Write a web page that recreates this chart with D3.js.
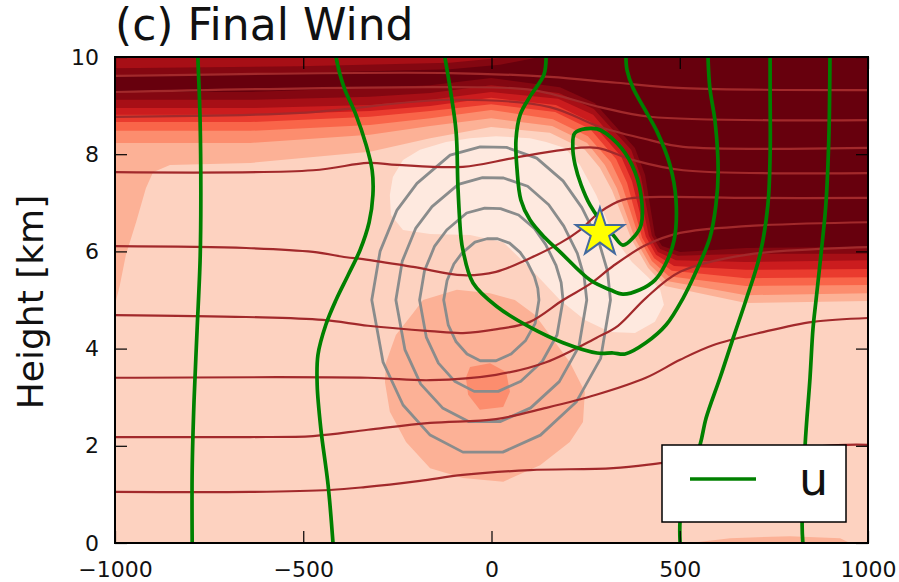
<!DOCTYPE html>
<html>
<head>
<meta charset="utf-8">
<script src="https://cdn.jsdelivr.net/npm/d3@7"></script>
<style>
  html, body { margin: 0; padding: 0; background: #fff; }
  svg { display: block; font-family: 'DejaVu Sans', sans-serif; }
</style>
</head>
<body>
<svg id="chart" width="899" height="582"></svg>
<script>
// axis ticks
var xTicks = [-1000, -500, 0, 500, 1000];
var yTicks = [0, 2, 4, 6, 8, 10];

// filled field: lower edge of each band, right edge -> left edge  [x, km]
var topEdge = [[-1000, 10], [1000, 10]];
var band28Lower = [[1000, 4.98], [676, 4.94], [461, 5.29], [416, 5.66], [373, 6.23], [320, 7.26], [288, 7.72], [248, 8.09], [155, 8.44], [-1, 8.56], [-163, 8.33], [-323, 8.05], [-641, 7.82], [-854, 7.78], [-899, 7.63], [-918, 7.30], [-944, 6.60], [-971, 5.93], [-987, 5.31], [-1000, 4.90]];
var band39Lower = [[1000, 5.14], [676, 5.10], [466, 5.39], [421, 5.72], [381, 6.26], [333, 7.30], [301, 7.78], [254, 8.23], [161, 8.58], [-1, 8.74], [-163, 8.58], [-323, 8.40], [-641, 8.23], [-1000, 8.23]];
var band51Lower = [[1000, 5.31], [676, 5.29], [471, 5.49], [426, 5.80], [392, 6.28], [347, 7.35], [317, 7.84], [256, 8.37], [163, 8.72], [-1, 8.91], [-163, 8.74], [-323, 8.60], [-641, 8.48], [-1000, 8.48]];
var band63Lower = [[1000, 5.47], [676, 5.45], [479, 5.60], [432, 5.86], [400, 6.28], [360, 7.41], [331, 7.90], [262, 8.52], [169, 8.87], [-1, 9.03], [-163, 8.89], [-323, 8.77], [-641, 8.66], [-1000, 8.66]];
var band75Lower = [[1000, 5.64], [676, 5.62], [485, 5.70], [437, 5.93], [410, 6.30], [373, 7.45], [344, 7.96], [264, 8.66], [171, 9.01], [-1, 9.16], [-163, 8.99], [-323, 8.89], [-641, 8.81], [-1000, 8.81]];
var band86Lower = [[1000, 5.82], [676, 5.78], [490, 5.82], [442, 5.99], [418, 6.32], [386, 7.49], [357, 8.02], [270, 8.81], [177, 9.14], [-1, 9.28], [-163, 9.12], [-323, 9.01], [-641, 8.95], [-1000, 8.95]];
var band94Upper = [[-1000, 9.77], [-509, 9.81], [-110, 9.88], [49, 10], [1000, 10]];
var band94Lower = [[1000, 5.95], [676, 5.95], [495, 5.91], [448, 6.05], [426, 6.32], [397, 7.53], [371, 8.09], [272, 8.93], [179, 9.26], [-1, 9.42], [-163, 9.26], [-323, 9.18], [-641, 9.12], [-1000, 9.12]];
var band100Upper = [[-1000, 9.63], [-509, 9.67], [-110, 9.75], [23, 9.84], [129, 10], [1000, 10]];
var band100Lower = [[1000, 6.09], [676, 6.07], [501, 5.99], [453, 6.11], [434, 6.34], [408, 7.57], [381, 8.13], [275, 9.05], [182, 9.38], [-1, 9.57], [-163, 9.42], [-323, 9.36], [-641, 9.28], [-1000, 9.28]];

// closed patches of the filled field
var lightPatch = [[-262, 7.53], [-235, 7.88], [-190, 8.09], [-121, 8.25], [-57, 8.33], [12, 8.37], [102, 8.33], [145, 8.25], [195, 8.13], [235, 7.78], [278, 7.16], [309, 6.60], [336, 6.17], [373, 5.78], [416, 5.47], [448, 5.21], [458, 4.90], [434, 4.55], [381, 4.32], [315, 4.34], [248, 4.59], [182, 5.00], [102, 5.66], [31, 6.19], [-57, 6.34], [-163, 6.36], [-235, 6.44], [-267, 6.75], [-270, 7.16]];
var salmonBlob = [[-182, 5.00], [-92, 5.21], [-4, 5.14], [62, 5.00], [116, 4.69], [155, 4.28], [208, 3.72], [248, 3.11], [243, 2.49], [208, 2.08], [129, 1.60], [31, 1.26], [-76, 1.34], [-163, 1.54], [-227, 2.08], [-270, 2.70], [-283, 3.31], [-280, 3.72], [-254, 4.28], [-208, 4.73]];
var salmonSpot = [[-57, 3.62], [-4, 3.70], [39, 3.52], [49, 3.11], [31, 2.80], [-31, 2.74], [-62, 3.05], [-68, 3.40]];
var bottomStrip = [[527, 0], [634, 0.10], [793, 0.14], [926, 0.10], [952, 0]];

// gray closed contours, inner to outer
var ring1 = [[-12, 6.26], [16, 6.26], [48, 6.17], [76, 5.98], [96, 5.76], [114, 5.48], [123, 5.24], [126, 5.0], [116, 4.52], [90, 4.16], [52, 3.89], [12, 3.75], [-30, 3.75], [-65, 3.89], [-94, 4.14], [-115, 4.49], [-127, 5.0], [-118, 5.4], [-100, 5.74], [-79, 5.96], [-44, 6.19]];
var ring2 = [[-18, 6.89], [24, 6.88], [72, 6.75], [114, 6.47], [144, 6.14], [171, 5.72], [185, 5.36], [190, 5.0], [174, 4.28], [135, 3.74], [78, 3.33], [18, 3.12], [-46, 3.12], [-98, 3.33], [-141, 3.7], [-173, 4.23], [-191, 5.0], [-178, 5.6], [-151, 6.11], [-119, 6.44], [-66, 6.79]];
var ring3 = [[-24, 7.52], [32, 7.51], [96, 7.34], [152, 6.96], [192, 6.52], [228, 5.96], [246, 5.48], [253, 5.0], [232, 4.04], [180, 3.32], [104, 2.78], [24, 2.5], [-61, 2.5], [-130, 2.78], [-188, 3.27], [-230, 3.98], [-254, 5.0], [-237, 5.8], [-201, 6.48], [-158, 6.92], [-88, 7.38]];
var ring4 = [[-30, 8.15], [40, 8.14], [120, 7.92], [190, 7.45], [240, 6.9], [285, 6.2], [308, 5.6], [316, 5.0], [290, 3.8], [225, 2.9], [130, 2.22], [30, 1.87], [-76, 1.87], [-163, 2.22], [-235, 2.84], [-288, 3.72], [-318, 5.0], [-296, 6.0], [-251, 6.85], [-198, 7.4], [-110, 7.98]];

// dark red contour lines, bottom to top
var theta1 = [[-1000, 1.05], [-641, 1.05], [-429, 1.09], [-336, 1.15], [-190, 1.28], [-76, 1.40], [102, 1.50], [323, 1.54], [456, 1.65], [687, 1.87], [942, 2.02], [1000, 2.02]];
var theta2 = [[-1000, 2.18], [-641, 2.18], [-474, 2.20], [-328, 2.33], [-163, 2.47], [12, 2.55], [145, 2.78], [278, 3.05], [410, 3.40], [501, 3.77], [588, 4.07], [721, 4.34], [854, 4.55], [1000, 4.63]];
var theta3 = [[-1000, 3.40], [-328, 3.40], [-163, 3.35], [12, 3.46], [145, 3.72], [278, 4.22], [336, 4.47], [410, 5.04], [501, 5.58], [676, 5.93], [1000, 6.09]];
var theta4 = [[-1000, 4.69], [-652, 4.65], [-448, 4.59], [-328, 4.47], [-163, 4.36], [-76, 4.32], [15, 4.40], [102, 4.55], [190, 5.0], [262, 5.33], [323, 5.70], [410, 6.13], [501, 6.38], [676, 6.52], [1000, 6.60]];
var theta5 = [[-1000, 6.11], [-652, 6.07], [-474, 5.99], [-386, 5.88], [-341, 5.84], [-208, 5.68], [-76, 5.51], [12, 5.58], [102, 5.86], [182, 6.17], [235, 6.44], [288, 6.81], [349, 7.06], [448, 7.12], [687, 7.10], [1000, 7.10]];
var theta6 = [[-1000, 7.63], [-474, 7.67], [-328, 7.82], [-251, 7.78], [-76, 7.74], [57, 7.92], [190, 8.09], [280, 8.13], [376, 7.88], [509, 7.67], [1000, 7.61]];
var theta7 = [[-1000, 8.77], [-509, 8.85], [-110, 9.12], [155, 8.97], [288, 8.56], [421, 8.29], [509, 8.15], [1000, 8.13]];
var theta8 = [[-1000, 9.28], [-110, 9.38], [110, 9.32], [288, 8.97], [421, 8.77], [1000, 8.70]];
var theta9 = [[-1000, 9.61], [-110, 9.67], [155, 9.59], [333, 9.47], [509, 9.36], [1000, 9.32]];

// u contours (green)
var u1 = [[-780, 10], [-774, 8.70], [-772, 7.06], [-774, 5.82], [-782, 4.38], [-790, 2.94], [-795, 1.5], [-795, 0]];
var u2 = [[-413, 10], [-402, 9.63], [-389, 9.32], [-360, 8.81], [-333, 8.19], [-317, 7.67], [-315, 7.16], [-325, 6.60], [-349, 6.03], [-381, 5.51], [-413, 5.0], [-440, 4.49], [-461, 3.87], [-463, 3.25], [-453, 2.33], [-434, 1.19], [-421, 0]];
var u3 = [[-124, 10], [-110, 9.36], [-94, 8.46], [-89, 7.30], [-81, 6.28], [-76, 6.03], [-49, 5.35], [15, 4.86], [102, 4.44], [190, 4.12], [280, 3.91], [323, 3.91], [355, 3.89], [410, 4.12], [464, 4.49], [509, 5.04], [543, 5.58], [580, 6.28], [596, 6.95], [602, 7.63], [594, 8.66], [580, 9.36], [575, 10]];
var u4 = [[145, 10], [139, 9.63], [105, 9.22], [76, 8.81], [65, 8.29], [68, 7.67], [78, 7.06], [102, 6.65], [142, 6.28], [182, 5.99], [262, 5.41], [315, 5.21], [349, 5.12], [394, 5.21], [434, 5.41], [461, 5.72], [485, 6.23], [490, 7.06], [474, 7.78], [440, 8.46], [408, 8.91], [376, 9.36], [360, 9.73], [357, 10]];
var u5 = [[222, 8.44], [280, 8.52], [333, 8.23], [373, 7.78], [397, 7.16], [397, 6.54], [376, 6.28], [349, 6.13], [323, 6.34], [288, 6.65], [262, 6.95], [238, 7.37], [222, 7.78], [216, 8.13]];
var u6 = [[740, 10], [740, 9.32], [740, 7.98], [734, 6.95], [713, 5.93], [676, 5.0], [642, 4.22], [607, 3.40], [570, 2.57], [554, 2.02], [517, 1.19], [501, 0.47], [501, 0]];
var u7 = [[899, 10], [896, 8.33], [888, 6.95], [875, 5.93], [862, 5.0], [854, 4.42], [846, 3.40], [833, 2.02], [825, 0.37], [827, 0]];

var starPoint = [288, 6.38];

// colour positions on the Reds ramp
var shade = { base: 0.17, light: 0.07, salmon: 0.28, spot: 0.39 };

var svg = d3.select('#chart');
var x = d3.scaleLinear().domain([-1000, 1000]).range([115, 868]);
var y = d3.scaleLinear().domain([0, 10]).range([543, 57]);

svg.append('defs')
  .append('clipPath')
    .attr('id', 'plot-clip')
  .append('rect')
    .attr('x', 115)
    .attr('y', 57)
    .attr('width', 753)
    .attr('height', 486);

var plot = svg.append('g').attr('clip-path', 'url(#plot-clip)');

var poly = d3.line()
  .x(function (d) { return x(d[0]); })
  .y(function (d) { return y(d[1]); });
var ring = d3.line()
  .x(function (d) { return x(d[0]); })
  .y(function (d) { return y(d[1]); })
  .curve(d3.curveLinearClosed);
var smooth = d3.line()
  .x(function (d) { return x(d[0]); })
  .y(function (d) { return y(d[1]); })
  .curve(d3.curveCatmullRom.alpha(0.5));
var smoothClosed = d3.line()
  .x(function (d) { return x(d[0]); })
  .y(function (d) { return y(d[1]); })
  .curve(d3.curveCatmullRomClosed.alpha(0.5));

// background band
plot.append('rect')
  .attr('x', 115)
  .attr('y', 57)
  .attr('width', 753)
  .attr('height', 486)
  .attr('fill', d3.interpolateReds(shade.base));

// upper bands, light to dark
var bands = [
  [0.28, topEdge, band28Lower],
  [0.39, topEdge, band39Lower],
  [0.51, topEdge, band51Lower],
  [0.63, topEdge, band63Lower],
  [0.75, topEdge, band75Lower],
  [0.86, topEdge, band86Lower],
  [0.94, band94Upper, band94Lower],
  [1.0, band100Upper, band100Lower]
];
plot.selectAll('path.band')
  .data(bands)
  .enter()
  .append('path')
    .attr('class', 'band')
    .attr('d', function (d) { return poly(d[1].concat(d[2])) + 'Z'; })
    .attr('fill', function (d) { return d3.interpolateReds(d[0]); });

var patches = [
  [shade.light, lightPatch],
  [shade.salmon, salmonBlob],
  [shade.spot, salmonSpot],
  [shade.salmon, bottomStrip]
];
plot.selectAll('path.patch')
  .data(patches)
  .enter()
  .append('path')
    .attr('class', 'patch')
    .attr('d', function (d) { return poly(d[1]) + 'Z'; })
    .attr('fill', function (d) { return d3.interpolateReds(d[0]); });

// gray rings
plot.selectAll('path.ring')
  .data([ring1, ring2, ring3, ring4])
  .enter()
  .append('path')
    .attr('class', 'ring')
    .attr('d', ring)
    .attr('fill', 'none')
    .attr('stroke', '#8a8c8c')
    .attr('stroke-width', 2.8)
    .attr('stroke-linejoin', 'round');

// dark red lines
plot.selectAll('path.theta')
  .data([theta1, theta2, theta3, theta4, theta5, theta6, theta7, theta8, theta9])
  .enter()
  .append('path')
    .attr('class', 'theta')
    .attr('d', smooth)
    .attr('fill', 'none')
    .attr('stroke', '#a2292b')
    .attr('stroke-width', 2.2);

// u contours
plot.selectAll('path.u')
  .data([u1, u2, u3, u4, u6, u7])
  .enter()
  .append('path')
    .attr('class', 'u')
    .attr('d', smooth)
    .attr('fill', 'none')
    .attr('stroke', '#008000')
    .attr('stroke-width', 3.7);
plot.append('path')
  .attr('d', smoothClosed(u5))
  .attr('fill', 'none')
  .attr('stroke', '#008000')
  .attr('stroke-width', 3.7);

// star marker
plot.append('path')
  .attr('transform', 'translate(' + x(starPoint[0]) + ',' + y(starPoint[1]) + ')')
  .attr('d', d3.symbol().type(d3.symbolStar).size(720))
  .attr('fill', '#ffff00')
  .attr('stroke', '#43699e')
  .attr('stroke-width', 2)
  .attr('stroke-linejoin', 'miter');

// axes, ticks pointing inward
var axisB = svg.append('g')
  .attr('transform', 'translate(0,543)')
  .call(d3.axisBottom(x).tickValues(xTicks).tickSize(-12).tickSizeOuter(0).tickPadding(18)
    .tickFormat(function (d) { return String(d).replace('-', '\u2212'); }));
var axisL = svg.append('g')
  .attr('transform', 'translate(115,0)')
  .call(d3.axisLeft(y).tickValues(yTicks).tickSize(-12).tickSizeOuter(0).tickPadding(16));
var axisT = svg.append('g')
  .attr('transform', 'translate(0,57)')
  .call(d3.axisTop(x).tickValues(xTicks).tickSize(-12).tickSizeOuter(0).tickFormat(''));
var axisR = svg.append('g')
  .attr('transform', 'translate(868,0)')
  .call(d3.axisRight(y).tickValues(yTicks).tickSize(-12).tickSizeOuter(0).tickFormat(''));

[axisB, axisL, axisT, axisR].forEach(function (g) {
  g.select('.domain').remove();
  g.selectAll('.tick line').attr('stroke', '#000').attr('stroke-width', 1.2);
  g.selectAll('.tick text')
    .attr('fill', '#111')
    .style('font-family', "'DejaVu Sans', sans-serif")
    .style('font-size', '22px');
});

svg.append('rect')
  .attr('x', 115)
  .attr('y', 57)
  .attr('width', 753)
  .attr('height', 486)
  .attr('fill', 'none')
  .attr('stroke', '#000')
  .attr('stroke-width', 2);

// legend
var legend = svg.append('g').attr('class', 'legend');
legend.append('rect')
  .attr('x', 662)
  .attr('y', 445)
  .attr('width', 184)
  .attr('height', 77)
  .attr('fill', '#fff')
  .attr('stroke', '#000')
  .attr('stroke-width', 1.5);
legend.append('line')
  .attr('x1', 690)
  .attr('x2', 756)
  .attr('y1', 479)
  .attr('y2', 479)
  .attr('stroke', '#008000')
  .attr('stroke-width', 3.7);
legend.append('text')
  .attr('x', 799)
  .attr('y', 495)
  .attr('fill', '#111')
  .style('font-size', '46px')
  .text('u');

// titles
svg.append('text')
  .attr('x', 115)
  .attr('y', 40)
  .attr('fill', '#111')
  .style('font-size', '44px')
  .text('(c) Final Wind');
svg.append('text')
  .attr('transform', 'translate(43,302) rotate(-90)')
  .attr('text-anchor', 'middle')
  .attr('fill', '#111')
  .style('font-size', '36px')
  .text('Height [km]');
</script>
</body>
</html>
